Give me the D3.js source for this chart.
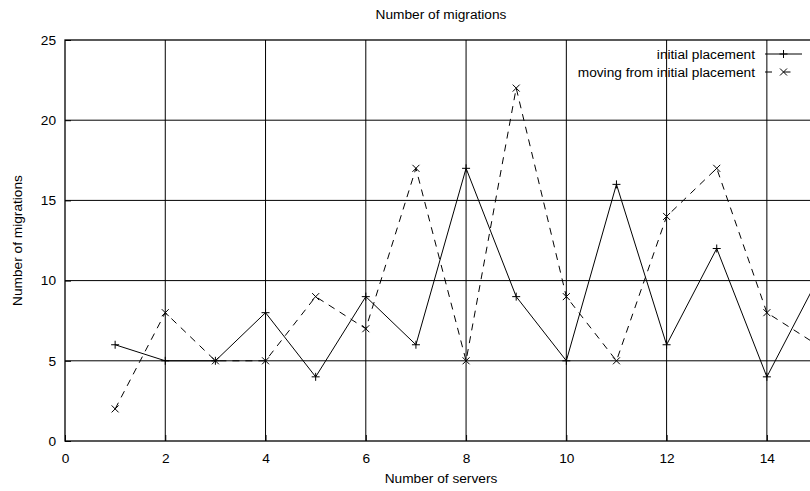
<!DOCTYPE html>
<html>
<head>
<meta charset="utf-8">
<script src="https://cdn.jsdelivr.net/npm/d3@7/dist/d3.min.js"></script>
<style>
  html, body { margin: 0; padding: 0; background: #fff; }
  svg { display: block; font-family: "Liberation Sans", Arial, sans-serif; }
</style>
</head>
<body>
<svg id="chart" width="810" height="491"></svg>
<script>
// Migration counts per number of servers
const servers = [1, 2, 3, 4, 5, 6, 7, 8, 9, 10, 11, 12, 13, 14, 15];
const initialPlacement = [6, 5, 5, 8, 4, 9, 6, 17, 9, 5, 16, 6, 12, 4, 10];
const movingFromInitial = [2, 8, 5, 5, 9, 7, 17, 5, 22, 9, 5, 14, 17, 8, 6];
const xTicks = [0, 2, 4, 6, 8, 10, 12, 14];
const yTicks = [0, 5, 10, 15, 20, 25];
const seriesNames = ["initial placement", "moving from initial placement"];

const fontSize = 13.7;
const svg = d3.select("#chart");
const plotLeft = 65, plotRight = 817, plotTop = 40, plotBottom = 441;

const x = d3.scaleLinear().domain([0, 15]).range([plotLeft, plotRight]);
const y = d3.scaleLinear().domain([0, 25]).range([plotBottom, plotTop]);

// grid
const grid = svg.append("g").attr("stroke", "#000").attr("stroke-width", 1);
grid.selectAll("line.vx").data(xTicks.filter(d => d > 0)).join("line")
  .attr("x1", d => x(d)).attr("x2", d => x(d)).attr("y1", plotTop).attr("y2", plotBottom);
grid.selectAll("line.hy").data(yTicks.filter(d => d > 0 && d < 25)).join("line")
  .attr("y1", d => y(d)).attr("y2", d => y(d)).attr("x1", plotLeft).attr("x2", plotRight);

// axes (ticks drawn inward, labels outside)
const xAxis = d3.axisBottom(x).tickValues(xTicks).tickSize(-6).tickPadding(12).tickFormat(d3.format("d"));
const gx = svg.append("g").attr("transform", `translate(0,${plotBottom})`).call(xAxis);
const yAxis = d3.axisLeft(y).tickValues(yTicks).tickSize(-6).tickPadding(9).tickFormat(d3.format("d"));
const gy = svg.append("g").attr("transform", `translate(${plotLeft},0)`).call(yAxis);
[gx, gy].forEach(g => {
  g.select(".domain").remove();
  g.selectAll("text").attr("font-size", fontSize).attr("fill", "#000")
    .attr("font-family", "'Liberation Sans', Arial, sans-serif");
});

// border
svg.append("rect").attr("x", plotLeft).attr("y", plotTop)
  .attr("width", plotRight - plotLeft).attr("height", plotBottom - plotTop)
  .attr("fill", "none").attr("stroke", "#000").attr("stroke-width", 1.3);

// titles
svg.append("text").attr("x", (plotLeft + plotRight) / 2).attr("y", 19)
  .attr("text-anchor", "middle").attr("font-size", fontSize).text("Number of migrations");
svg.append("text").attr("x", (plotLeft + plotRight) / 2).attr("y", 483)
  .attr("text-anchor", "middle").attr("font-size", fontSize).text("Number of servers");
svg.append("text").attr("transform", `translate(22,${(plotTop + plotBottom) / 2}) rotate(-90)`)
  .attr("text-anchor", "middle").attr("font-size", fontSize).text("Number of migrations");

// lines
const line = d3.line().x((d, i) => x(servers[i])).y(d => y(d));
svg.append("path").datum(initialPlacement).attr("d", line)
  .attr("fill", "none").attr("stroke", "#000").attr("stroke-width", 1);
svg.append("path").datum(movingFromInitial).attr("d", line)
  .attr("fill", "none").attr("stroke", "#000").attr("stroke-width", 1)
  .attr("stroke-dasharray", "7,6");

// markers
const plusPath = (cx, cy, r) => `M${cx - r},${cy}H${cx + r}M${cx},${cy - r}V${cy + r}`;
const crossPath = (cx, cy, r) => `M${cx - r},${cy - r}L${cx + r},${cy + r}M${cx - r},${cy + r}L${cx + r},${cy - r}`;
svg.append("g").selectAll("path").data(initialPlacement).join("path")
  .attr("d", (d, i) => plusPath(x(servers[i]), y(d), 4))
  .attr("stroke", "#000").attr("stroke-width", 1);
svg.append("g").selectAll("path").data(movingFromInitial).join("path")
  .attr("d", (d, i) => crossPath(x(servers[i]), y(d), 3.5))
  .attr("stroke", "#000").attr("stroke-width", 1);

// legend
const legend = svg.append("g");
const rows = [54, 72];
seriesNames.forEach((name, i) => {
  const ly = rows[i];
  legend.append("text").attr("x", 755).attr("y", ly + 5)
    .attr("text-anchor", "end").attr("font-size", fontSize).text(name);
  legend.append("line").attr("x1", 765).attr("x2", 802).attr("y1", ly).attr("y2", ly)
    .attr("stroke", "#000").attr("stroke-width", 1)
    .attr("stroke-dasharray", i === 1 ? "7,11.5" : null);
  legend.append("path")
    .attr("d", i === 0 ? plusPath(783.5, ly, 4) : crossPath(783.5, ly, 3.5))
    .attr("stroke", "#000").attr("stroke-width", 1);
});
</script>
</body>
</html>
